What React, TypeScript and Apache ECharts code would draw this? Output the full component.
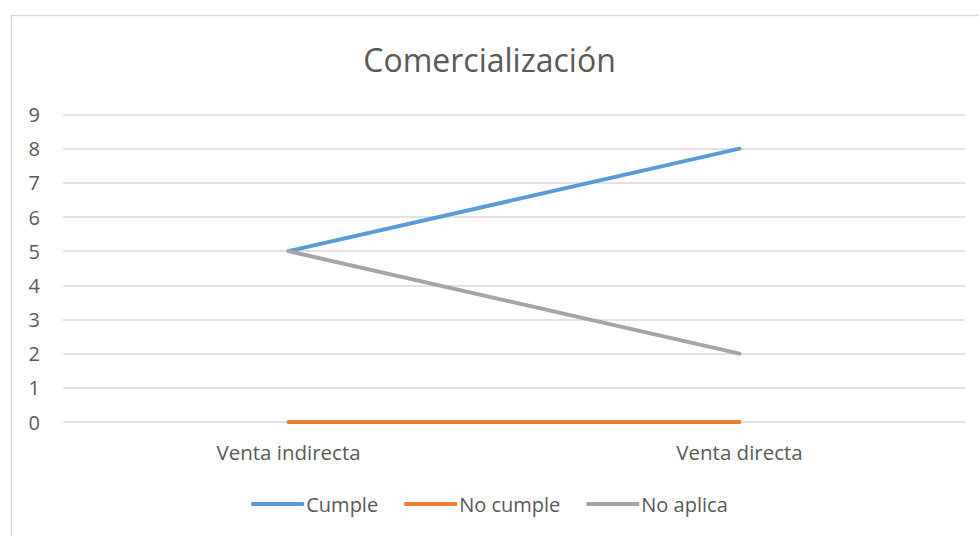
import React, { useEffect, useRef } from "react";
import * as echarts from "echarts";

const categories = ["Venta indirecta", "Venta directa"];
const cumple = [5, 8];
const noCumple = [0, 0];
const noAplica = [5, 2];
const seriesNames = ["Cumple", "No cumple", "No aplica"];
const colors = ["#5B9BD5", "#ED7D31", "#A5A5A5"];

export default function App() {
  const ref = useRef<HTMLDivElement>(null);
  useEffect(() => {
    const chart = echarts.init(ref.current!, null, { renderer: "svg" });
    const font = "'Open Sans', 'Liberation Sans', sans-serif";
    const mk = (name: string, data: number[], color: string) => ({
      name,
      type: "line",
      data,
      symbol: "none",
      color,
      lineStyle: { width: 4, color, cap: "round", join: "round" },
    });
    chart.setOption({
      animation: false,
      textStyle: { fontFamily: font, color: "#595959" },
      title: {
        text: "Comercialización",
        left: "center",
        top: 38,
        textStyle: { fontFamily: font, fontSize: 32, fontWeight: "normal", color: "#595959" },
      },
      graphic: [
        {
          type: "rect",
          shape: { x: 11.5, y: 15.5, width: 1000, height: 600 },
          style: { fill: "none", stroke: "#D9D9D9", lineWidth: 1.5 },
          silent: true,
        },
      ],
      legend: {
        bottom: 17,
        left: "center",
        itemWidth: 53,
        itemHeight: 4,
        itemGap: 26,
        icon: "roundRect",
        textStyle: { fontFamily: font, fontSize: 20, color: "#595959", padding: [0, 0, 0, -3] },
        data: seriesNames,
      },
      grid: { left: 63, right: 14, top: 114.5, bottom: 114, containLabel: false },
      xAxis: {
        type: "category",
        data: categories,
        boundaryGap: true,
        axisLine: { show: false },
        axisTick: { show: false },
        axisLabel: { fontFamily: font, fontSize: 20.5, color: "#595959", margin: 19 },
      },
      yAxis: {
        type: "value",
        min: 0,
        max: 9,
        interval: 1,
        axisLine: { show: false },
        axisTick: { show: false },
        axisLabel: { fontFamily: font, fontSize: 20, color: "#595959", margin: 23 },
        splitLine: { lineStyle: { color: "#D9D9D9", width: 1.5 } },
      },
      series: [
        mk(seriesNames[0], cumple, colors[0]),
        mk(seriesNames[1], noCumple, colors[1]),
        mk(seriesNames[2], noAplica, colors[2]),
      ],
    });
    return () => chart.dispose();
  }, []);
  return (
    <div
      ref={ref}
      style={{ position: "fixed", left: 0, top: 0, width: 979, height: 536, background: "#fff" }}
    />
  );
}
